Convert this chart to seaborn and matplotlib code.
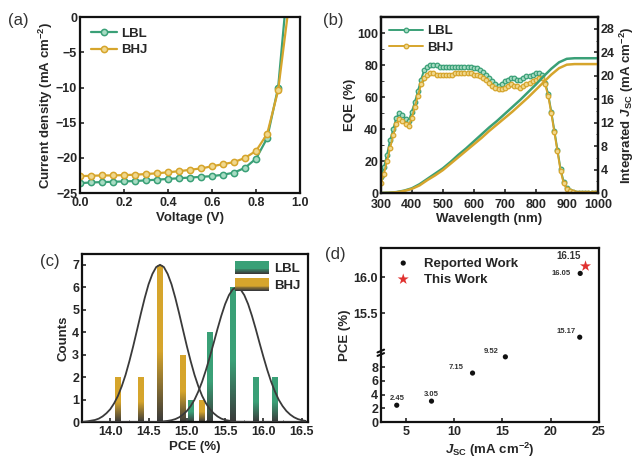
import numpy as np
import pandas as pd
import seaborn as sns
import matplotlib.pyplot as plt
from matplotlib.colors import LinearSegmentedColormap
from matplotlib.patches import Rectangle
from matplotlib.legend_handler import HandlerBase
from matplotlib.ticker import MultipleLocator, AutoMinorLocator, FuncFormatter

# ---- (a) J-V ----
volt = [0.0, 0.05, 0.1, 0.15, 0.2, 0.25, 0.3, 0.35, 0.4, 0.45, 0.5, 0.55,
        0.6, 0.65, 0.7, 0.75, 0.8, 0.85, 0.9, 0.95]
j_lbl = [-23.6, -23.5, -23.45, -23.4, -23.35, -23.3, -23.2, -23.1, -23.0, -22.9,
         -22.8, -22.7, -22.6, -22.4, -22.1, -21.4, -20.1, -17.2, -10.0, 7.2]
j_bhj = [-22.6, -22.55, -22.5, -22.5, -22.45, -22.4, -22.3, -22.2, -22.05, -21.9,
         -21.7, -21.5, -21.2, -20.9, -20.6, -20.0, -19.0, -16.6, -10.4, 2.0]

# ---- (b) EQE + integrated Jsc ----
wl = list(range(300, 1001, 10))
eqe_lbl = [10, 16, 24, 33, 40, 47, 50, 49, 46, 45, 51, 57, 64, 71, 77, 79, 80, 80, 80, 79,
           79, 79, 79, 79, 79, 79, 79, 79, 79, 79, 78, 78, 77, 76, 74, 72, 70, 68, 67, 68,
           70, 71, 72, 72, 71, 71, 72, 73, 73, 74, 75, 75, 74, 69, 62, 51, 39, 27, 15, 7,
           3, 1.2, 0.5, 0.3, 0.2, 0.1, 0.1, 0.1, 0.1, 0.1, 0.1]
eqe_bhj = [6, 12, 20, 28, 36, 43, 46, 45, 43, 42, 47, 54, 61, 68, 72, 74, 75, 75, 74, 74,
           74, 74, 74, 74, 75, 75, 75, 75, 75, 75, 74, 74, 73, 72, 71, 69, 67, 66, 65, 65,
           66, 67, 68, 67, 67, 66, 67, 68, 69, 70, 71, 72, 72, 68, 61, 50, 38, 26, 14, 6,
           2.5, 1, 0.4, 0.2, 0.1, 0.1, 0.1, 0.1, 0.1, 0.1, 0.1]
wl_int = [300, 325, 350, 375, 400, 425, 450, 475, 500, 525, 550, 575, 600, 625, 650,
          675, 700, 725, 750, 775, 800, 825, 850, 875, 900, 925, 1000]
jint_lbl = [0, 0.05, 0.15, 0.4, 0.8, 1.5, 2.4, 3.3, 4.2, 5.3, 6.5, 7.6, 8.8, 10.0, 11.2,
            12.3, 13.5, 14.7, 15.9, 17.2, 18.5, 19.9, 21.2, 22.3, 22.9, 23.0, 23.0]
jint_bhj = [0, 0.03, 0.12, 0.35, 0.7, 1.3, 2.2, 3.0, 3.9, 5.0, 6.1, 7.2, 8.3, 9.4, 10.6,
            11.7, 12.8, 13.9, 15.1, 16.3, 17.6, 18.9, 20.2, 21.3, 21.9, 22.0, 22.0]

# ---- (c) PCE histogram ----
pce_bhj = [14.1, 14.4, 14.65, 14.95, 15.2]
cnt_bhj = [2, 2, 7, 3, 1]
pce_lbl = [15.05, 15.3, 15.6, 15.9, 16.15]
cnt_lbl = [1, 4, 6, 2, 2]
fit_x_bhj = [13.65, 13.7, 13.75, 13.8, 13.85, 13.9, 13.95, 14.0, 14.05, 14.1, 14.15, 14.2,
             14.25, 14.3, 14.35, 14.4, 14.45, 14.5, 14.55, 14.6, 14.65, 14.7, 14.75, 14.8,
             14.85, 14.9, 14.95, 15.0, 15.05, 15.1, 15.15, 15.2, 15.25, 15.3, 15.35, 15.4,
             15.45, 15.5, 15.55, 15.6, 15.65, 16.0, 16.55]
fit_y_bhj = [0.01, 0.03, 0.06, 0.09, 0.15, 0.25, 0.39, 0.57, 0.83, 1.16, 1.59, 2.10,
             2.71, 3.38, 4.10, 4.83, 5.52, 6.13, 6.59, 6.90, 7.0, 6.90, 6.59, 6.13,
             5.52, 4.83, 4.10, 3.38, 2.71, 2.10, 1.59, 1.16, 0.83, 0.57, 0.39, 0.25,
             0.15, 0.09, 0.06, 0.03, 0.01, 0.0, 0.0]
fit_x_lbl = [13.65, 14.3, 14.6, 14.65, 14.7, 14.75, 14.8, 14.85, 14.9, 14.95, 15.0, 15.05,
             15.1, 15.15, 15.2, 15.25, 15.3, 15.35, 15.4, 15.45, 15.5, 15.55, 15.6, 15.65,
             15.7, 15.75, 15.8, 15.85, 15.9, 15.95, 16.0, 16.05, 16.1, 16.15, 16.2, 16.25,
             16.3, 16.35, 16.4, 16.45, 16.5, 16.55]
fit_y_lbl = [0.0, 0.0, 0.0, 0.01, 0.03, 0.05, 0.08, 0.13, 0.21, 0.33, 0.49, 0.71,
             0.99, 1.36, 1.80, 2.32, 2.90, 3.51, 4.14, 4.73, 5.25, 5.65, 5.91, 6.0,
             5.91, 5.65, 5.25, 4.73, 4.14, 3.51, 2.90, 2.32, 1.80, 1.36, 0.99, 0.71,
             0.49, 0.33, 0.21, 0.13, 0.08, 0.05]

# ---- (d) literature comparison ----
rep_jsc = [4.05, 7.65, 11.9, 15.3, 23.0, 23.05]
rep_pce = [2.45, 3.05, 7.15, 9.52, 15.17, 16.05]
rep_lab = ['2.45', '3.05', '7.15', '9.52', '15.17', '16.05']
this_jsc = [23.6]
this_pce = [16.15]

green = '#3aa077'
gold = '#d6a52c'
green_face = '#a8dcc3'
gold_face = '#f0d88e'
dark = '#3a3a3a'

sns.set_style('ticks')
plt.rcParams['font.family'] = ['Liberation Sans', 'DejaVu Sans']
plt.rcParams['font.weight'] = 'bold'
plt.rcParams['axes.labelweight'] = 'bold'
plt.rcParams['mathtext.fontset'] = 'custom'
plt.rcParams['mathtext.rm'] = 'Liberation Sans:bold'
plt.rcParams['mathtext.bf'] = 'Liberation Sans:bold'
plt.rcParams['mathtext.it'] = 'Liberation Sans:italic:bold'
plt.rcParams['xtick.direction'] = 'in'
plt.rcParams['ytick.direction'] = 'in'
plt.rcParams['xtick.major.size'] = 3
plt.rcParams['ytick.major.size'] = 3
plt.rcParams['xtick.minor.size'] = 1.8
plt.rcParams['ytick.minor.size'] = 1.8
plt.rcParams['axes.linewidth'] = 1.6

TICK = 9
LAB = 9.5

fig = plt.figure(figsize=(6.4, 4.59), dpi=100)


def style(ax, xpad=3):
    for s in ax.spines.values():
        s.set_linewidth(1.6)
        s.set_color('#111111')
    ax.tick_params(labelsize=TICK, width=1.2, pad=2)
    ax.tick_params(axis='x', pad=xpad)
    for t in ax.get_xticklabels() + ax.get_yticklabels():
        t.set_fontweight('bold')


# ================= (a) =================
ax = fig.add_axes([0.125, 0.5795, 0.344, 0.383])
df_a = pd.DataFrame({'V': volt, 'LBL': j_lbl, 'BHJ': j_bhj})
sns.lineplot(data=df_a, x='V', y='LBL', ax=ax, color=green, lw=1.6, marker='o', ms=4.5,
             markerfacecolor=green_face, markeredgecolor=green, markeredgewidth=1.1, label='LBL')
sns.lineplot(data=df_a, x='V', y='BHJ', ax=ax, color=gold, lw=1.6, marker='o', ms=4.5,
             markerfacecolor=gold_face, markeredgecolor=gold, markeredgewidth=1.1, label='BHJ')
ax.set_xlim(0, 1.0)
ax.set_ylim(-25, 0)
ax.xaxis.set_major_locator(MultipleLocator(0.2))
ax.yaxis.set_major_locator(MultipleLocator(5))
ax.xaxis.set_major_formatter(FuncFormatter(lambda v, p: f'{v:.1f}'))
ax.set_xlabel('Voltage (V)', fontsize=LAB, labelpad=2)
ax.set_ylabel('Current density (mA cm$^{-2}$)', fontsize=LAB, labelpad=1)
ax.legend(loc='upper left', frameon=False, handlelength=2.0,
          handletextpad=0.3, labelspacing=0.3, borderaxespad=0.4,
          prop={'weight': 'bold', 'size': 9.5})
style(ax)

# ================= (b) =================
ax = fig.add_axes([0.595, 0.5795, 0.339, 0.383])
ax2 = ax.twinx()
df_b = pd.DataFrame({'wl': wl, 'LBL': eqe_lbl, 'BHJ': eqe_bhj})
df_bi = pd.DataFrame({'wl': wl_int, 'LBL': jint_lbl, 'BHJ': jint_bhj})
sns.lineplot(data=df_b, x='wl', y='LBL', ax=ax, color=green, lw=1.4, marker='o', ms=3.3,
             markerfacecolor=green_face, markeredgecolor=green, markeredgewidth=0.9, label='LBL')
sns.lineplot(data=df_b, x='wl', y='BHJ', ax=ax, color=gold, lw=1.4, marker='o', ms=3.3,
             markerfacecolor=gold_face, markeredgecolor=gold, markeredgewidth=0.9, label='BHJ')
sns.lineplot(data=df_bi, x='wl', y='LBL', ax=ax2, color=green, lw=1.8)
sns.lineplot(data=df_bi, x='wl', y='BHJ', ax=ax2, color=gold, lw=1.8)
ax.set_xlim(300, 1000)
ax.set_ylim(0, 110)
ax2.set_ylim(0, 30)
ax.xaxis.set_major_locator(MultipleLocator(100))
ax.yaxis.set_major_locator(MultipleLocator(20))
ax.yaxis.set_minor_locator(AutoMinorLocator(2))
ax2.yaxis.set_major_locator(MultipleLocator(4))
ax2.yaxis.set_minor_locator(AutoMinorLocator(2))
ax.set_xlabel('Wavelength (nm)', fontsize=LAB, labelpad=1)
ax.set_ylabel('EQE (%)', fontsize=LAB, labelpad=1)
ax2.set_ylabel('Integrated $\\mathit{J}_{\\mathrm{SC}}$ (mA cm$^{-2}$)', fontsize=LAB, labelpad=2)
ax.legend(loc='upper left', frameon=False, handlelength=2.6,
          handletextpad=0.3, labelspacing=0.3, borderaxespad=0.2,
          prop={'weight': 'bold', 'size': 9.5})
style(ax, xpad=4.5)
style(ax2, xpad=4.5)

# ================= (c) =================
ax = fig.add_axes([0.128, 0.0806, 0.353, 0.366])
bw = 0.075


def grad_cmap(c):
    return LinearSegmentedColormap.from_list('g', [(0, dark), (0.45, c), (1, c)])


def grad_bars(ax, xs, hs, c):
    cmap = grad_cmap(c)
    grad = np.linspace(0, 1, 200).reshape(-1, 1)
    bars = ax.bar(xs, hs, width=bw, color='none', edgecolor='none')
    for b, x, h in zip(bars, xs, hs):
        im = ax.imshow(grad, extent=[x - bw / 2, x + bw / 2, 0, h], origin='lower',
                       aspect='auto', cmap=cmap, zorder=2)
        im.set_clip_path(b)


grad_bars(ax, pce_bhj, cnt_bhj, gold)
grad_bars(ax, pce_lbl, cnt_lbl, green)
sns.lineplot(x=fit_x_bhj, y=fit_y_bhj, ax=ax, color=dark, lw=1.3, zorder=3)
sns.lineplot(x=fit_x_lbl, y=fit_y_lbl, ax=ax, color=dark, lw=1.3, zorder=3)
ax.set_xlim(13.63, 16.58)
ax.set_ylim(0, 7.48)
ax.xaxis.set_major_locator(MultipleLocator(0.5))
ax.xaxis.set_minor_locator(AutoMinorLocator(2))
ax.yaxis.set_major_locator(MultipleLocator(1))
ax.set_xlabel('PCE (%)', fontsize=LAB, labelpad=2)
ax.set_ylabel('Counts', fontsize=LAB, labelpad=2)


class GradHandler(HandlerBase):
    def __init__(self, c):
        super().__init__()
        self.c = c

    def create_artists(self, legend, orig_handle, xdescent, ydescent, width, height,
                       fontsize, trans):
        cmap = grad_cmap(self.c)
        n = 14
        arts = []
        for i in range(n):
            arts.append(Rectangle((-xdescent, -ydescent + i * height / n), width,
                                  height / n * 1.05, facecolor=cmap(i / (n - 1)),
                                  edgecolor='none', transform=trans))
        return arts


h_lbl = Rectangle((0, 0), 1, 1)
h_bhj = Rectangle((0, 0), 1, 1)
ax.legend([h_lbl, h_bhj], ['LBL', 'BHJ'], loc='upper right', frameon=False,
          handler_map={h_lbl: GradHandler(green), h_bhj: GradHandler(gold)},
          handlelength=2.6, handleheight=1.1, handletextpad=0.4, labelspacing=0.25,
          borderaxespad=0.15, prop={'weight': 'bold', 'size': 9.5})
style(ax)

# ================= (d) =================
ax = fig.add_axes([0.595, 0.0806, 0.341, 0.379])


def fwd(y):
    y = np.asarray(y, dtype=float)
    return np.where(y <= 10, 6.8 * y,
                    np.where(y <= 15, 68 + 0.8 * (y - 10), 72 + 72 * (y - 15)))


def inv(p):
    p = np.asarray(p, dtype=float)
    return np.where(p <= 68, p / 6.8,
                    np.where(p <= 72, 10 + (p - 68) / 0.8, 15 + (p - 72) / 72))


ax.set_yscale('function', functions=(fwd, inv))
sns.scatterplot(x=rep_jsc, y=rep_pce, ax=ax, color='#111111', s=14, edgecolor='none',
                label='Reported Work', zorder=3)
sns.scatterplot(x=this_jsc, y=this_pce, ax=ax, color='#e0312f', marker='*', s=70,
                edgecolor='none', label='This Work', zorder=3)
offs = [(0, 5), (0, 5), (-12, 4), (-10, 4), (-10, 4), (-14, 0)]
for x, y, t, o in zip(rep_jsc, rep_pce, rep_lab, offs):
    ax.annotate(t, (x, y), xytext=o, textcoords='offset points', ha='center', va='center',
                fontsize=5.5, fontweight='bold', color='#333333')
ax.annotate('16.15', (this_jsc[0], this_pce[0]), xytext=(-12, 7), textcoords='offset points',
            ha='center', va='center', fontsize=7, fontweight='bold', color='#333333')
ax.set_xlim(2.4, 25)
ax.set_ylim(0, 16.4)
ax.set_yticks([0, 2, 4, 6, 8, 15.5, 16.0])
ax.set_yticklabels(['0', '2', '4', '6', '8', '15.5', '16.0'])
ax.xaxis.set_major_locator(MultipleLocator(5))
ax.yaxis.set_minor_locator(plt.NullLocator())
for dy in (0.388, 0.408):
    ax.plot([-0.015, 0.015], [dy - 0.008, dy + 0.008], transform=ax.transAxes,
            color='#111111', lw=1.5, clip_on=False)
ax.set_xlabel('$\\mathit{J}_{\\mathrm{SC}}$ (mA cm$^{-2}$)', fontsize=LAB, labelpad=2)
ax.set_ylabel('PCE (%)', fontsize=LAB, labelpad=2)
ax.legend(loc='upper left', frameon=False, handletextpad=0.6, labelspacing=0.3,
          borderaxespad=0.3, prop={'weight': 'bold', 'size': 9.5})
style(ax)

# panel letters
for lab, x, y in [('(a)', 0.012, 0.955), ('(b)', 0.505, 0.955),
                  ('(c)', 0.062, 0.43), ('(d)', 0.508, 0.445)]:
    fig.text(x, y, lab, fontsize=12, fontweight='normal', color='#333333', va='center')

fig.savefig('out.png', dpi=100)
